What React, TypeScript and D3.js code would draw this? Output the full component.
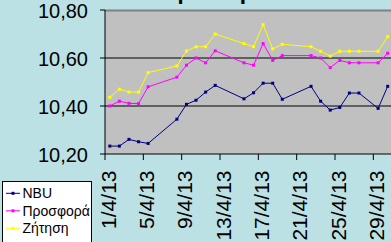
import React from "react";
import * as d3 from "d3";

// Day of April 2013 for each observation
const days = [1, 2, 3, 4, 5, 8, 9, 10, 11, 12, 15, 16, 17, 18, 19, 22, 23, 24, 25, 26, 27, 29, 30];
const nbu = [10.233, 10.233, 10.261, 10.251, 10.244, 10.345, 10.407, 10.424, 10.458, 10.486, 10.43, 10.455, 10.495, 10.495, 10.428, 10.482, 10.42, 10.383, 10.394, 10.454, 10.454, 10.39, 10.482];
const prosfora = [10.40, 10.42, 10.411, 10.41, 10.48, 10.52, 10.57, 10.60, 10.58, 10.63, 10.58, 10.57, 10.66, 10.59, 10.61, 10.61, 10.60, 10.56, 10.59, 10.58, 10.58, 10.58, 10.62];
const zitisi = [10.436, 10.47, 10.458, 10.458, 10.539, 10.567, 10.629, 10.647, 10.647, 10.70, 10.66, 10.647, 10.739, 10.6375, 10.657, 10.647, 10.628, 10.608, 10.628, 10.628, 10.628, 10.628, 10.689];
const seriesNames = ["NBU", "Προσφορά", "Ζήτηση"];
const seriesColors = ["#000080", "#FF00FF", "#FFFF00"];
const yTicks = [10.2, 10.4, 10.6, 10.8];
const xTickDays = [1, 5, 9, 13, 17, 21, 25, 29];
const title = "Ισοτιμία ευρώ";

const W = 391;
const H = 242;

export default function App() {
  const x = d3.scaleLinear().domain([0, 30]).range([105, 392.5]);
  const y = d3.scaleLinear().domain([10.2, 10.8]).range([154, 10]);
  const px = (d: number) => x(d - 0.5);
  const fmt = (v: number) => v.toFixed(2).replace(".", ",");
  const all = [nbu, prosfora, zitisi];
  const line = d3
    .line<number>()
    .x((_, i) => px(days[i]))
    .y((v) => y(v));
  const plotRight = x(30);
  return (
    <div style={{ position: "fixed", left: 0, top: 0, width: W, height: H, overflow: "hidden" }}>
      <svg width={W} height={H} style={{ display: "block", fontFamily: "Arial, 'Liberation Sans', sans-serif" }}>
        <rect x={0} y={0} width={W} height={H} fill="#BCE1E4" />
        <text x={200} y={-1.5} textAnchor="middle" fontSize={22} fontWeight="bold" fill="#000">
          {title}
        </text>
        {/* plot area */}
        <rect x={x(0)} y={y(10.8)} width={plotRight - x(0)} height={y(10.2) - y(10.8)} fill="#C0C0C0" />
        <line x1={x(0)} x2={plotRight} y1={y(10.8) + 0.5} y2={y(10.8) + 0.5} stroke="#808080" strokeWidth={2} />
        {yTicks
          .filter((t) => t > 10.2 && t < 10.8)
          .map((t) => (
            <line key={t} x1={x(0)} x2={plotRight} y1={y(t)} y2={y(t)} stroke="#000" strokeWidth={1} />
          ))}
        {/* axes */}
        <line x1={x(0)} x2={x(0)} y1={y(10.8)} y2={y(10.2)} stroke="#000" strokeWidth={1} />
        <line x1={x(0)} x2={plotRight} y1={y(10.2)} y2={y(10.2)} stroke="#000" strokeWidth={1} />
        {yTicks.map((t) => (
          <g key={t}>
            <line x1={x(0) - 5} x2={x(0)} y1={y(t)} y2={y(t)} stroke="#000" />
            <text x={88} y={y(t) + 8} textAnchor="end" fontSize={20} fill="#000">
              {fmt(t)}
            </text>
          </g>
        ))}
        {xTickDays.map((d) => (
          <g key={d}>
            <line x1={x(d - 1)} x2={x(d - 1)} y1={y(10.2)} y2={y(10.2) + 6} stroke="#000" />
            <text
              transform={`translate(${px(d) - 1.5},170.5) rotate(-90)`}
              textAnchor="end"
              dy="0.35em"
              fontSize={21}
              fill="#000"
            >
              {`${d}/4/13`}
            </text>
          </g>
        ))}
        {/* series */}
        {all.map((vals, si) => (
          <g key={si}>
            <path d={line(vals) || ""} fill="none" stroke={seriesColors[si]} strokeWidth={1} />
            {vals.map((v, i) => (
              <rect key={i} x={px(days[i]) - 1.5} y={y(v) - 1.5} width={3} height={3} fill={seriesColors[si]} />
            ))}
          </g>
        ))}
        {/* legend */}
        <rect x={2.5} y={181.5} width={89} height={70} fill="#FFFFFF" stroke="#000" strokeWidth={1} />
        {seriesNames.map((n, i) => {
          const ly = 193.3 + i * 17.5;
          return (
            <g key={n}>
              <line x1={6} x2={20} y1={ly} y2={ly} stroke={seriesColors[i]} strokeWidth={1} />
              <rect x={11.5} y={ly - 1.5} width={3} height={3} fill={seriesColors[i]} />
              <text x={22.5} y={ly + 5} fontSize={14} fill="#000">
                {n}
              </text>
            </g>
          );
        })}
      </svg>
    </div>
  );
}
